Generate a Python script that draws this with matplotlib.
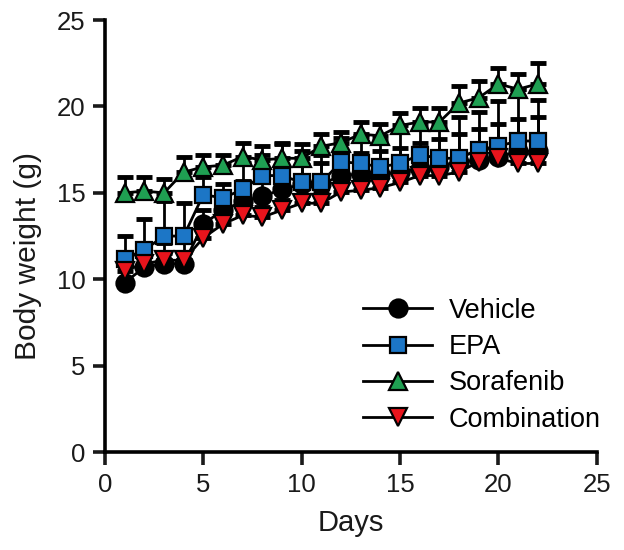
import numpy as np
import matplotlib.pyplot as plt

plt.rcParams['font.family'] = ['Liberation Sans', 'DejaVu Sans']

days = np.arange(1, 23)

vehicle = [9.8, 10.7, 10.9, 10.9, 13.2, 14.0, 14.5, 14.8, 15.2, 15.5, 15.5, 16.0,
           16.1, 16.1, 16.2, 16.4, 16.5, 16.8, 16.9, 17.1, 17.4, 17.4]
vehicle_sd = [1.0, 0.9, 1.2, 1.3, 0.8, 0.9, 1.2, 1.4, 1.3, 1.1, 1.2, 1.0,
              1.2, 1.3, 1.4, 1.5, 1.6, 1.6, 1.8, 1.9, 1.9, 2.0]

epa = [11.2, 11.7, 12.5, 12.5, 14.9, 14.7, 15.2, 16.0, 16.0, 15.6, 15.6, 16.8,
       16.7, 16.5, 16.7, 17.2, 17.0, 17.0, 17.5, 17.7, 18.0, 18.0]
epa_sd = [1.3, 1.8, 2.0, 1.9, 1.0, 0.8, 1.5, 1.2, 1.8, 1.8, 1.6, 1.4,
          1.6, 1.5, 1.8, 1.6, 1.8, 2.4, 2.2, 2.6, 3.0, 2.4]

sorafenib = [15.0, 15.1, 15.0, 16.2, 16.5, 16.6, 17.1, 16.9, 17.0, 17.0, 17.7, 17.9,
             18.4, 18.3, 18.9, 19.1, 19.1, 20.2, 20.5, 21.3, 21.0, 21.3]
sorafenib_sd = [0.9, 0.8, 0.8, 0.9, 0.7, 0.6, 0.8, 0.8, 0.9, 0.8, 0.7, 0.6,
                0.7, 0.7, 0.7, 0.8, 0.8, 1.0, 1.0, 0.9, 0.9, 1.2]

combination = [10.5, 10.9, 11.1, 11.1, 12.4, 13.2, 13.7, 13.6, 14.0, 14.4, 14.4, 15.05,
               15.15, 15.3, 15.6, 16.0, 16.0, 16.2, 16.8, 17.0, 16.7, 16.7]
combination_sd = [0.5, 0.5, 0.4, 0.5, 0.6, 0.5, 0.6, 0.6, 0.6, 0.5, 0.6, 0.6,
                  0.6, 0.6, 0.6, 0.6, 0.7, 0.7, 0.7, 0.7, 0.8, 0.8]

fig = plt.figure(figsize=(6.24, 5.5), dpi=100)
ax = fig.add_axes([0.1683, 0.178, 0.788, 0.7856])

series = [
    ("Vehicle", vehicle, vehicle_sd, 'o', 'black', 13),
    ("EPA", epa, epa_sd, 's', '#1c76c6', 11.5),
    ("Sorafenib", sorafenib, sorafenib_sd, '^', '#1f9f52', 13),
    ("Combination", combination, combination_sd, 'v', '#e8141c', 13),
]

for name, y, sd, m, c, ms in series:
    ax.errorbar(days, y, yerr=[np.zeros(len(sd)), sd], fmt='none', ecolor='black',
                elinewidth=2, capsize=5.5, capthick=3.5)
for name, y, sd, m, c, ms in series:
    ax.plot(days, y, color='black', lw=2, marker=m, markersize=ms,
            markerfacecolor=c, markeredgecolor='black', markeredgewidth=1.6,
            label=name)

ax.set_xlim(0, 25)
ax.set_ylim(0, 25)
ax.set_xticks(range(0, 26, 5))
ax.set_yticks(range(0, 26, 5))
ax.spines['top'].set_visible(False)
ax.spines['right'].set_visible(False)
for s in ['left', 'bottom']:
    ax.spines[s].set_linewidth(2.6)
    ax.spines[s].set_clip_on(False)
ax.tick_params(width=2.6, length=9, labelsize=18.5, colors='#1a1a1a')
ax.tick_params(axis='x', pad=6)
ax.tick_params(axis='y', pad=5)
ax.set_xlabel("Days", fontsize=21, color='#1a1a1a')
ax.set_ylabel("Body weight (g)", fontsize=21.5, color='#1a1a1a')
ax.xaxis.set_label_coords(0.5, -0.132)
ax.yaxis.set_label_coords(-0.128, 0.454)

ax.legend(loc='upper left', bbox_to_anchor=(0.525, 0.357), frameon=False,
          fontsize=19.5, handlelength=2.55, handletextpad=0.6, labelspacing=0.38,
          borderpad=0, borderaxespad=0)

fig.savefig("out.png", dpi=100)
